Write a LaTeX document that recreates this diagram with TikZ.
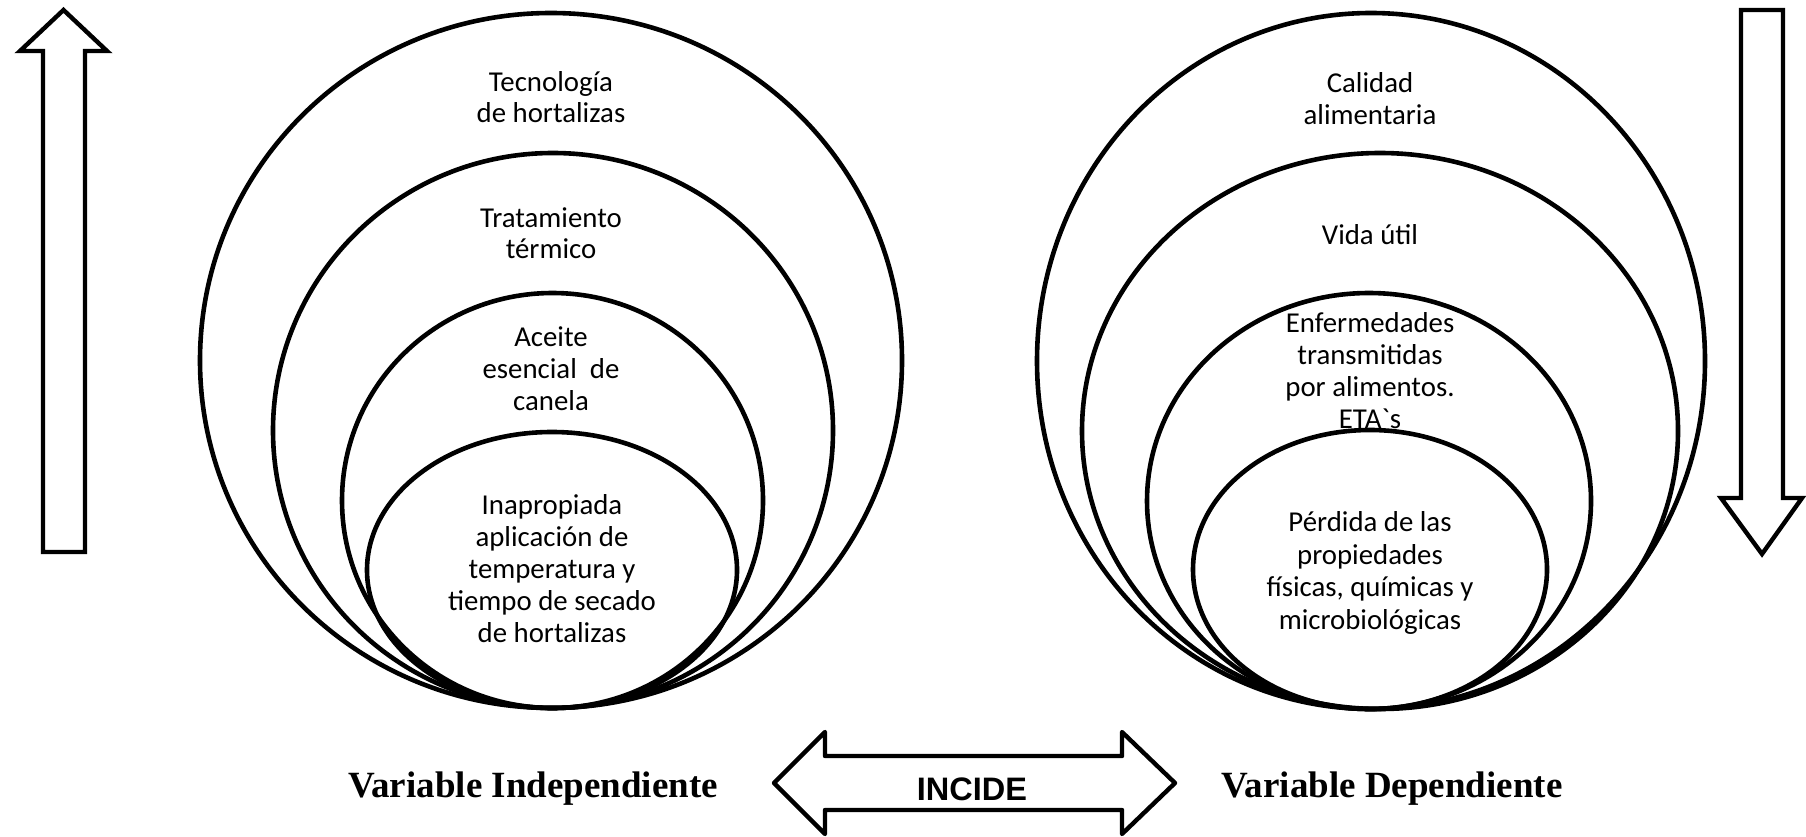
\documentclass[tikz,border=0pt]{standalone}
\usepackage{fontspec}
\setmainfont{Carlito}
\newfontfamily\tnrfont{Liberation Serif}
\newfontfamily\arialfont{Liberation Sans}
\font\gravefont="Carlito" at 28.8pt
\begin{document}
\begin{tikzpicture}[x=1pt,y=-1pt,
  ring/.style={draw=black,line width=4.6pt},
  bigarrow/.style={draw=black,line width=4.4pt,fill=white,line join=miter},
  dblarrow/.style={draw=black,line width=4.4pt,fill=white,line join=round},
  lbl/.style={anchor=base,inner sep=0pt,font=\fontsize{28.8}{32}\selectfont},
  varlbl/.style={anchor=base,inner sep=0pt,font=\tnrfont\bfseries\fontsize{37}{40}\selectfont},
  incidelbl/.style={anchor=base,inner sep=0pt,font=\arialfont\bfseries\fontsize{32.5}{36}\selectfont}]
\useasboundingbox (0,0) rectangle (1806,837);

% vertical arrows
\draw[bigarrow] (43,552) -- (43,51) -- (20,51) -- (63.5,10) -- (107,51) -- (85,51) -- (85,552) -- cycle;
\draw[bigarrow] (1741,10) -- (1783,10) -- (1783,498) -- (1802,498) -- (1762,554) -- (1721,498) -- (1741,498) -- cycle;

% left nested ellipses
\draw[ring] (551,360.5) ellipse [x radius=351, y radius=347.5];
\draw[ring] (553,430.5) ellipse [x radius=280, y radius=277.5];
\draw[ring] (552.5,500.5) ellipse [x radius=210.5, y radius=207.5];
\draw[ring] (552,570) ellipse [x radius=185, y radius=138];

% right nested ellipses
\draw[ring] (1371,361) ellipse [x radius=334, y radius=348];
\draw[ring] (1380,431) ellipse [x radius=298, y radius=278];
\draw[ring] (1369,501) ellipse [x radius=222, y radius=208];
\draw[ring] (1370,569.5) ellipse [x radius=177, y radius=139.5];

% left texts
\node[lbl] (l1a) at (551,92) {Tecnología};
\node[lbl] (l1b) at (551,123) {de hortalizas};
\node[lbl] (l2a) at (551,227) {Tratamiento};
\node[lbl] (l2b) at (551,258) {térmico};
\node[lbl] (l3a) at (551,346) {Aceite};
\node[lbl] (l3b) at (551,378) {esencial\ \ de};
\node[lbl] (l3c) at (551,410) {canela};
\node[lbl] (l4a) at (552,514) {Inapropiada};
\node[lbl] (l4b) at (552,546) {aplicación de};
\node[lbl] (l4c) at (552,578) {temperatura y};
\node[lbl] (l4d) at (552,610) {tiempo de secado};
\node[lbl] (l4e) at (552,642) {de hortalizas};

% right texts
\node[lbl] (r1a) at (1370,93) {Calidad};
\node[lbl] (r1b) at (1370,125) {alimentaria};
\node[lbl] (r2a) at (1370,244.5) {Vida útil};
\node[lbl] (r3a) at (1370,332.5) {Enfermedades};
\node[lbl] (r3b) at (1370,364) {transmitidas};
\node[lbl] (r3c) at (1370,396) {por alimentos.};
\node[lbl] (r3d) at (1370,428) {ETA{\gravefont`}s};
\node[lbl] (r4a) at (1370,531.5) {Pérdida de las};
\node[lbl] (r4b) at (1370,564) {propiedades};
\node[lbl] (r4c) at (1370,596.5) {físicas, químicas y};
\node[lbl] (r4d) at (1370,629) {microbiológicas};

% double arrow
\draw[dblarrow] (774,783) -- (825,732) -- (825,756) -- (1122,756) -- (1122,732) -- (1175,783) -- (1122,834) -- (1122,810) -- (825,810) -- (825,834) -- cycle;
\node[incidelbl] (incide) at (972,800) {INCIDE};

% bottom labels
\node[varlbl] (vind) at (533,797) {Variable Independiente};
\node[varlbl] (vdep) at (1392,797) {Variable Dependiente};
\end{tikzpicture}
\end{document}
